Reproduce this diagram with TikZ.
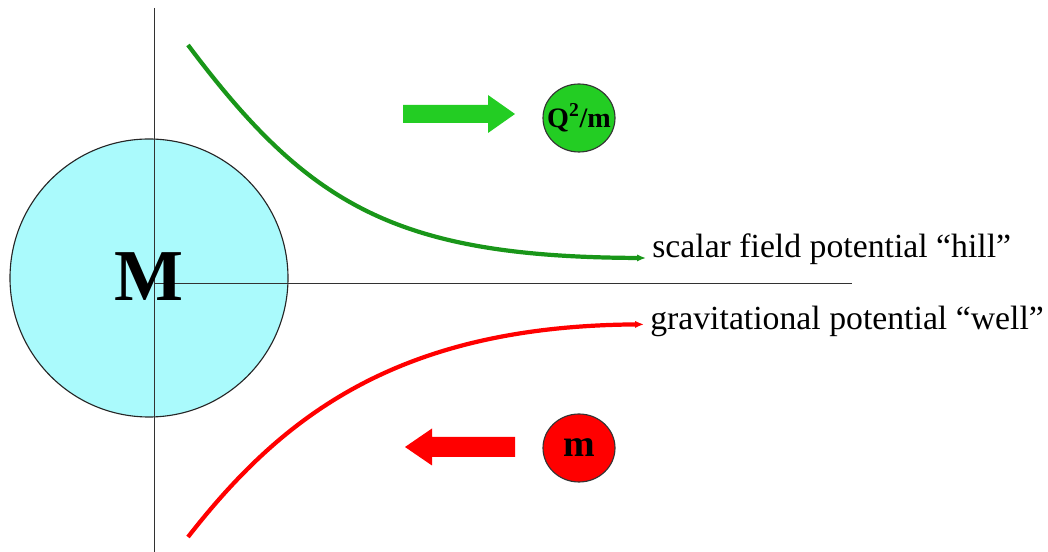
\documentclass[tikz,border=0pt]{standalone}
\usepackage{fontspec}
\setmainfont{Liberation Serif}
\usetikzlibrary{arrows.meta,shapes.geometric}
\definecolor{planetcyan}{RGB}{170,250,252}
\definecolor{hillgreen}{RGB}{25,150,25}
\definecolor{pushgreen}{RGB}{35,205,35}
\definecolor{axisgray}{RGB}{50,50,50}

\begin{document}
\begin{tikzpicture}
    [x=1cm,y=1cm,
     axis/.style={draw=axisgray, line width=0.7pt},
     potential/.style={line width=3pt, -{Latex[length=2.2mm,width=1.8mm]}},
     ball/.style={ellipse, draw=black!80, line width=0.8pt, inner sep=-0.2cm, minimum width=1.8cm, minimum height=1.7cm},
     curvetext/.style={anchor=base west, inner sep=0.15cm, font=\fontsize{24}{28}\selectfont}]
    \useasboundingbox (0,0) rectangle (26.2,13.8);
    \node[circle, draw=black!85, line width=0.8pt, fill=planetcyan, minimum size=6.95cm] (planet) at (3.725,6.85) {};
    % axes through the centre
    \coordinate (vtop) at (3.85,13.6);
    \coordinate (vbot) at (3.85,0);
    \coordinate (origin) at (3.85,6.725);
    \coordinate (hend) at (21.3,6.725);
    \draw[axis] (vtop) -- (vbot);
    \draw[axis] (origin) -- (hend);
    \node[font=\fontsize{52}{60}\selectfont\bfseries] (mass) at (3.725,6.875) {M};
    % potentials
    \node[curvetext] (hill) at (16.15,7.35) {scalar field potential “hill”};
    \node[curvetext] (well) at (16.1,5.55) {gravitational potential “well”};
    \coordinate (hillstart) at (4.7,12.675);
    \coordinate (wellstart) at (4.7,0.375);
    \draw[potential, hillgreen] (hillstart) .. controls (7.7,8.675) and (9.875,7.375) .. (hill.base west);
    \draw[potential, red] (wellstart) .. controls (7.0,3.325) and (9.875,5.65) .. ([yshift=4pt]well.base west);
    % test bodies
    \node[ball, fill=pushgreen, font=\fontsize{20}{24}\selectfont\bfseries] (charge) at (14.475,10.85) {Q\textsuperscript{2}/m};
    \node[ball, fill=red, font=\fontsize{27}{30}\selectfont\bfseries] (small) at (14.475,2.6) {m};
    \coordinate (pushtail) at (10.075,10.95);
    \coordinate (pulltail) at (12.875,2.625);
    \fill[pushgreen] (pushtail) ++(0,0.225) -- ++(2.125,0) -- ++(0,0.25) -- ++(0.675,-0.475) -- ++(-0.675,-0.475) -- ++(0,0.25) -- ++(-2.125,0) -- cycle;
    \fill[red] (pulltail) ++(0,0.25) -- ++(-2.075,0) -- ++(0,0.2125) -- ++(-0.675,-0.4625) -- ++(0.675,-0.4625) -- ++(0,0.2125) -- ++(2.075,0) -- cycle;
\end{tikzpicture}
\end{document}
